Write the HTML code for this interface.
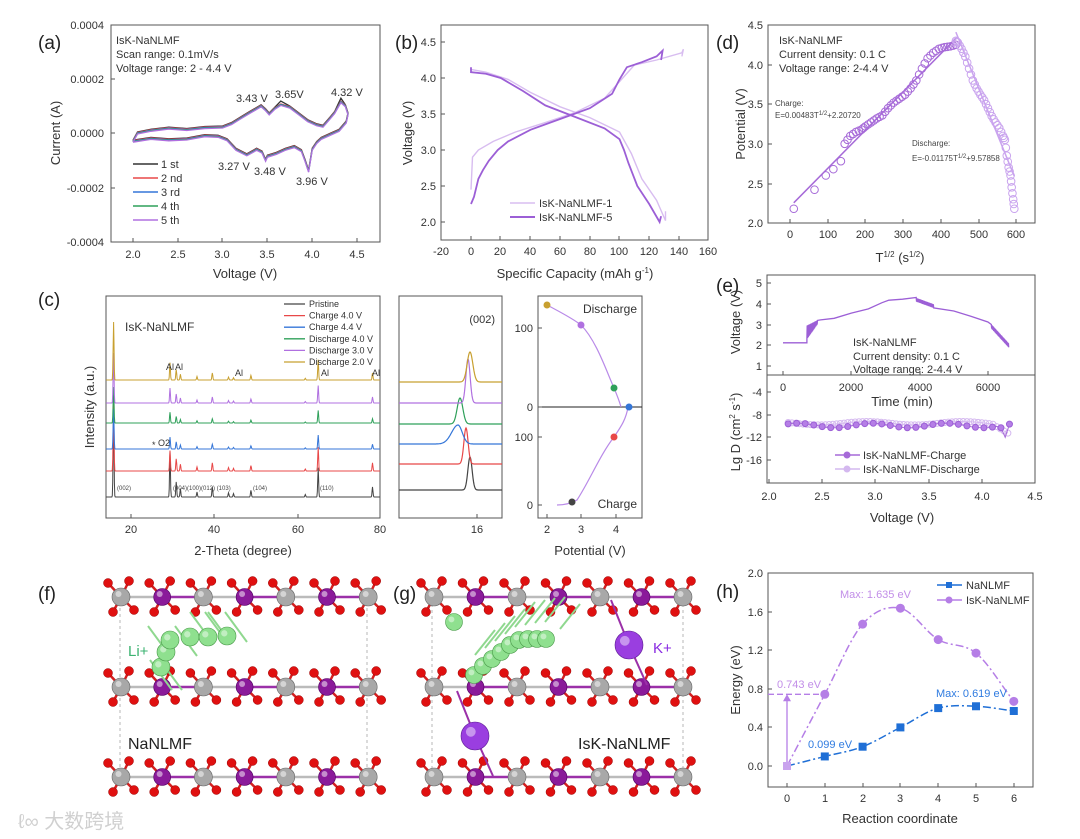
<!DOCTYPE html>
<html><head><meta charset="utf-8"><style>
html,body{margin:0;padding:0;background:#fff;}
svg{display:block;font-family:"Liberation Sans","Noto Sans CJK SC",sans-serif;}
.t{font-size:11px;fill:#333}
.l{font-size:13px;fill:#333}
.p{font-size:19px;fill:#222}
.fr{fill:none;stroke:#555;stroke-width:1}
</style></head><body>
<svg id="s" width="1080" height="839" viewBox="0 0 1080 839" xmlns="http://www.w3.org/2000/svg">
<rect width="1080" height="839" fill="#fff"/>
<text class="p" x="38" y="49">(a)</text>
<text class="p" x="395" y="49">(b)</text>
<text class="p" x="716" y="49">(d)</text>
<text class="p" x="38" y="306">(c)</text>
<text class="p" x="716" y="292">(e)</text>
<text class="p" x="38" y="600">(f)</text>
<text class="p" x="393" y="600">(g)</text>
<text class="p" x="716" y="598">(h)</text>

<rect class="fr" x="111" y="25" width="269" height="217"/>
<g class="t" text-anchor="end">
<text x="104" y="29">0.0004</text><text x="104" y="83">0.0002</text><text x="104" y="137">0.0000</text><text x="104" y="192">-0.0002</text><text x="104" y="246">-0.0004</text>
</g>
<g class="t" text-anchor="middle">
<text x="133" y="258">2.0</text><text x="178" y="258">2.5</text><text x="222" y="258">3.0</text><text x="267" y="258">3.5</text><text x="312" y="258">4.0</text><text x="357" y="258">4.5</text>
</g>
<text class="l" x="245" y="278" text-anchor="middle">Voltage (V)</text>
<text class="l" transform="translate(60,133) rotate(-90)" text-anchor="middle">Current (A)</text>
<g class="t"><text x="116" y="44">IsK-NaNLMF</text><text x="116" y="58">Scan range: 0.1mV/s</text><text x="116" y="72">Voltage range: 2 - 4.4 V</text>
<text x="236" y="102">3.43 V</text><text x="275" y="98">3.65V</text><text x="331" y="96">4.32 V</text>
<text x="218" y="170">3.27 V</text><text x="254" y="175">3.48 V</text><text x="296" y="185">3.96 V</text></g>
<g id="aLeg" class="t"></g>
<g id="aCurves"></g>

<rect class="fr" x="441" y="25" width="267" height="215"/>
<g class="t" text-anchor="end">
<text x="436" y="46">4.5</text><text x="436" y="82">4.0</text><text x="436" y="118">3.5</text><text x="436" y="154">3.0</text><text x="436" y="190">2.5</text><text x="436" y="226">2.0</text>
</g>
<g class="t" text-anchor="middle">
<text x="441" y="255">-20</text><text x="471" y="255">0</text><text x="500" y="255">20</text><text x="530" y="255">40</text><text x="560" y="255">60</text><text x="590" y="255">80</text><text x="619" y="255">100</text><text x="649" y="255">120</text><text x="679" y="255">140</text><text x="708" y="255">160</text>
</g>
<text class="l" x="575" y="278" text-anchor="middle">Specific Capacity (mAh g<tspan dy="-5" font-size="8">-1</tspan><tspan dy="5">)</tspan></text>
<text class="l" transform="translate(412,133) rotate(-90)" text-anchor="middle">Voltage (V)</text>
<g id="bCurves"></g>
<line x1="510" y1="203" x2="535" y2="203" stroke="#d8bdf0" stroke-width="1.5"/><text class="t" x="539" y="207">IsK-NaNLMF-1</text>
<line x1="510" y1="217" x2="535" y2="217" stroke="#9c5fd6" stroke-width="2"/><text class="t" x="539" y="221">IsK-NaNLMF-5</text>

<rect class="fr" x="768" y="25" width="267" height="198"/>
<g class="t" text-anchor="end">
<text x="763" y="29">4.5</text><text x="763" y="69">4.0</text><text x="763" y="108">3.5</text><text x="763" y="148">3.0</text><text x="763" y="188">2.5</text><text x="763" y="227">2.0</text>
</g>
<g class="t" text-anchor="middle">
<text x="790" y="238">0</text><text x="828" y="238">100</text><text x="865" y="238">200</text><text x="903" y="238">300</text><text x="941" y="238">400</text><text x="979" y="238">500</text><text x="1016" y="238">600</text>
</g>
<text class="l" x="900" y="262" text-anchor="middle">T<tspan dy="-5" font-size="8">1/2</tspan><tspan dy="5"> (s</tspan><tspan dy="-5" font-size="8">1/2</tspan><tspan dy="5">)</tspan></text>
<text class="l" transform="translate(745,124) rotate(-90)" text-anchor="middle">Potential (V)</text>
<g class="t"><text x="779" y="44">IsK-NaNLMF</text><text x="779" y="58">Current density: 0.1 C</text><text x="779" y="72">Voltage range: 2-4.4 V</text></g>
<g font-size="8" fill="#444"><text x="775" y="106">Charge:</text><text x="775" y="118">E=0.00483T<tspan dy="-3" font-size="6">1/2</tspan><tspan dy="3">+2.20720</tspan></text>
<text x="912" y="146">Discharge:</text><text x="912" y="161">E=-0.01175T<tspan dy="-3" font-size="6">1/2</tspan><tspan dy="3">+9.57858</tspan></text></g>
<g id="dCurves"></g>

<rect class="fr" x="767" y="275" width="268" height="208"/>
<line x1="767" y1="375" x2="1035" y2="375" stroke="#555"/>
<g class="t" text-anchor="end">
<text x="762" y="287">5</text><text x="762" y="308">4</text><text x="762" y="329">3</text><text x="762" y="349">2</text><text x="762" y="370">1</text>
<text x="762" y="396">-4</text><text x="762" y="419">-8</text><text x="762" y="441">-12</text><text x="762" y="464">-16</text>
</g>
<g class="t" text-anchor="middle">
<text x="783" y="391">0</text><text x="851" y="391">2000</text><text x="920" y="391">4000</text><text x="988" y="391">6000</text>
<text x="769" y="500">2.0</text><text x="822" y="500">2.5</text><text x="875" y="500">3.0</text><text x="929" y="500">3.5</text><text x="982" y="500">4.0</text><text x="1035" y="500">4.5</text>
</g>
<text class="l" x="902" y="406" text-anchor="middle">Time (min)</text>
<text class="l" x="902" y="522" text-anchor="middle">Voltage (V)</text>
<text class="l" transform="translate(740,322) rotate(-90)" text-anchor="middle">Voltage (V)</text>
<text class="l" transform="translate(740,432) rotate(-90)" text-anchor="middle">Lg D (cm<tspan dy="-5" font-size="8">2</tspan><tspan dy="5"> s</tspan><tspan dy="-5" font-size="8">-1</tspan><tspan dy="5">)</tspan></text>
<g class="t"><text x="853" y="346">IsK-NaNLMF</text><text x="853" y="360">Current density: 0.1 C</text><text x="853" y="373">Voltage range: 2-4.4 V</text></g>
<g id="eCurves"></g>
<line x1="835" y1="455" x2="860" y2="455" stroke="#a66ad8" stroke-width="1.5"/><circle cx="847" cy="455" r="3.5" fill="#a66ad8"/><text class="t" x="863" y="459">IsK-NaNLMF-Charge</text>
<line x1="835" y1="469" x2="860" y2="469" stroke="#d4b8ef" stroke-width="1.5"/><circle cx="847" cy="469" r="3.5" fill="#d4b8ef"/><text class="t" x="863" y="473">IsK-NaNLMF-Discharge</text>

<rect class="fr" x="106" y="296" width="274" height="222"/>
<rect class="fr" x="399" y="296" width="103" height="222"/>
<rect class="fr" x="538" y="296" width="104" height="222"/>
<g class="t" text-anchor="middle">
<text x="131" y="533">20</text><text x="214" y="533">40</text><text x="298" y="533">60</text><text x="380" y="533">80</text>
<text x="477" y="533">16</text>
<text x="547" y="533">2</text><text x="581" y="533">3</text><text x="616" y="533">4</text>
</g>
<g class="t" text-anchor="end"><text x="533" y="332">100</text><text x="533" y="411">0</text><text x="533" y="441">100</text><text x="533" y="509">0</text></g>
<text class="l" x="243" y="555" text-anchor="middle">2-Theta (degree)</text>
<text class="l" x="590" y="555" text-anchor="middle">Potential (V)</text>
<text class="l" transform="translate(94,407) rotate(-90)" text-anchor="middle">Intensity (a.u.)</text>
<text x="125" y="331" font-size="12" fill="#333">IsK-NaNLMF</text>
<text x="495" y="323" font-size="11" fill="#333" text-anchor="end">(002)</text>
<text x="637" y="313" font-size="12" fill="#333" text-anchor="end">Discharge</text>
<text x="637" y="508" font-size="12" fill="#333" text-anchor="end">Charge</text>
<g id="cCurves"></g>
<g id="cLeg" font-size="9" fill="#333"></g>
<g font-size="9" fill="#333"><text x="166" y="370">Al</text><text x="175" y="370">Al</text><text x="235" y="376">Al</text><text x="321" y="376">Al</text><text x="372" y="376">Al</text><text x="158" y="446">O2</text><text x="152" y="448">*</text></g>
<g font-size="6" fill="#444"><text x="117" y="490">(002)</text><text x="173" y="490">(004)(100)(012) (103)</text><text x="253" y="490">(104)</text><text x="320" y="490">(110)</text></g>

<g id="cryst"></g>
<text x="128" y="656" font-size="15" fill="#3cb371">Li+</text>
<text x="653" y="653" font-size="15" fill="#8a2be2">K+</text>
<text x="128" y="749" font-size="16" fill="#222">NaNLMF</text>
<text x="578" y="749" font-size="16" fill="#222">IsK-NaNLMF</text>
<text x="18" y="828" font-size="20" fill="#d0d0d0">ℓ∞ 大数跨境</text>

<rect class="fr" x="768" y="573" width="265" height="214"/>
<g class="t" text-anchor="end">
<text x="763" y="577">2.0</text><text x="763" y="616">1.6</text><text x="763" y="654">1.2</text><text x="763" y="693">0.8</text><text x="763" y="731">0.4</text><text x="763" y="770">0.0</text>
</g>
<g class="t" text-anchor="middle">
<text x="787" y="802">0</text><text x="825" y="802">1</text><text x="863" y="802">2</text><text x="900" y="802">3</text><text x="938" y="802">4</text><text x="976" y="802">5</text><text x="1014" y="802">6</text>
</g>
<text class="l" x="900" y="823" text-anchor="middle">Reaction coordinate</text>
<text class="l" transform="translate(740,680) rotate(-90)" text-anchor="middle">Energy (eV)</text>
<g id="hCurves"></g>
<g font-size="11"><text x="840" y="598" fill="#c28ee8">Max: 1.635 eV</text><text x="777" y="688" fill="#c28ee8">0.743 eV</text>
<text x="936" y="697" fill="#2f7be0">Max: 0.619 eV</text><text x="808" y="748" fill="#2f7be0">0.099 eV</text></g>
<line x1="937" y1="585" x2="962" y2="585" stroke="#1f6fd6" stroke-width="1.5"/><rect x="946" y="582" width="6" height="6" fill="#1f6fd6"/><text class="t" x="966" y="589">NaNLMF</text>
<line x1="937" y1="600" x2="962" y2="600" stroke="#b57ee6" stroke-width="1.5"/><circle cx="949" cy="600" r="3.5" fill="#b57ee6"/><text class="t" x="966" y="604">IsK-NaNLMF</text>
</svg>
<script>
var NS="http://www.w3.org/2000/svg";
function E(t,a,p){var e=document.createElementNS(NS,t);for(var k in a)e.setAttribute(k,a[k]);(p||document.getElementById('s')).appendChild(e);return e;}
function G(id){return document.getElementById(id);}
function pts(arr,fx,fy){return arr.map(function(q){return fx(q[0]).toFixed(1)+","+fy(q[1]).toFixed(1);}).join(" ");}
function interp(arr,n){var o=[];for(var i=0;i<arr.length-1;i++){for(var j=0;j<n;j++){var f=j/n;o.push([arr[i][0]+(arr[i+1][0]-arr[i][0])*f,arr[i][1]+(arr[i+1][1]-arr[i][1])*f]);}}o.push(arr[arr.length-1]);return o;}
function ticks(list,horiz,pos,len){list.forEach(function(v){if(horiz)E('line',{x1:v,y1:pos,x2:v,y2:pos-len,stroke:'#555'});else E('line',{x1:pos,y1:v,x2:pos+len,y2:v,stroke:'#555'});});}
ticks([133,178,222,267,312,357],1,242,4);ticks([25,79,133,188,242],0,111,4);
ticks([441,471,500,530,560,590,619,649,679,708],1,240,4);ticks([42,78,114,150,186,222],0,441,4);
ticks([790,828,865,903,941,979,1016],1,223,4);ticks([25,65,104,144,184,223],0,768,4);
ticks([283,304,325,345,366],0,767,4);ticks([392,415,437,460],0,767,4);ticks([783,851,920,988],1,375,4);
ticks([769,822,875,929,982,1035],1,483,4);
ticks([131,214,298,380],1,518,4);ticks([477],1,518,4);ticks([547,581,616],1,518,4);ticks([328,407,437,505],0,538,4);
ticks([787,825,863,900,938,976,1014],1,787,4);ticks([573,612,650,689,727,766],0,768,4);

var up=[[2.0,-0.3],[2.05,0],[2.2,0.1],[2.4,0.18],[2.6,0.13],[2.8,0.2],[3.0,0.22],[3.1,0.35],[3.2,0.55],[3.3,0.75],[3.43,1.0],[3.48,0.85],[3.52,0.7],[3.58,0.9],[3.65,1.05],[3.75,0.95],[3.85,0.7],[3.95,0.45],[4.05,0.3],[4.12,0.25],[4.2,0.55],[4.25,0.75],[4.32,1.15],[4.37,1.0],[4.4,0.7]];
var dn=[[4.4,0.7],[4.38,0.4],[4.3,0.1],[4.2,-0.05],[4.1,-0.2],[4.05,-0.35],[4.0,-0.6],[3.96,-1.4],[3.92,-1.0],[3.88,-0.65],[3.8,-0.5],[3.7,-0.6],[3.6,-0.75],[3.5,-0.85],[3.48,-1.0],[3.44,-0.7],[3.38,-0.6],[3.27,-0.8],[3.15,-0.6],[3.05,-0.25],[2.95,-0.12],[2.8,-0.1],[2.6,-0.22],[2.4,-0.25],[2.2,-0.2],[2.0,-0.3]];
var cols=['#333','#e84848','#3576d8','#2fa05a','#b070e0'];
var ac=G('aCurves');
cols.forEach(function(c,k){E('polyline',{points:pts(up.concat(dn),function(v){return 133+(v-2)*89.6;},function(u){return 133-(u*(1+(k===0&&u>1?0.08:0)))*27.25+(k-2)*0.5;}),fill:'none',stroke:c,'stroke-width':1.3},ac);});
var al=G('aLeg');['1 st','2 nd','3 rd','4 th','5 th'].forEach(function(t,i){var y=164+i*14;E('line',{x1:133,y1:y,x2:158,y2:y,stroke:cols[i],'stroke-width':1.5},al);var tx=E('text',{x:161,y:y+4},al);tx.textContent=t;});

var bx=function(c){return 471+c*1.485;},by=function(v){return 222-(v-2)*72;};
var b5c=[[0,2.25],[2,2.35],[5,2.6],[8,2.72],[12,2.85],[18,3.0],[25,3.12],[40,3.28],[60,3.43],[80,3.58],[95,3.78],[100,3.98],[105,4.15],[115,4.22],[125,4.3],[129,4.38],[128,4.25]];
var b5d=[[0,4.15],[0,4.08],[10,4.06],[20,4.0],[35,3.82],[50,3.62],[70,3.46],[90,3.3],[100,3.15],[103,3.0],[106,2.82],[112,2.5],[120,2.25],[127,2.0],[128,2.08]];
var b1c=[[0,2.45],[1,2.9],[5,3.0],[15,3.12],[30,3.25],[50,3.38],[70,3.52],[90,3.72],[100,3.95],[110,4.18],[125,4.25],[142,4.35],[143,4.4],[142,4.3]];
var b1d=[[0,4.12],[10,4.08],[25,3.98],[40,3.8],[60,3.6],[80,3.45],[100,3.25],[108,2.95],[115,2.6],[125,2.3],[131,2.02],[131,2.15]];
var bc=G('bCurves');
[b1c,b1d].forEach(function(a){E('polyline',{points:pts(a,bx,by),fill:'none',stroke:'#d8bdf0','stroke-width':1.4},bc);});
[b5c,b5d].forEach(function(a){E('polyline',{points:pts(a,bx,by),fill:'none',stroke:'#9c5fd6','stroke-width':1.8},bc);});

var dx=function(t){return 790+t*0.377;},dy=function(v){return 223-(v-2)*79.2;};
var dc=G('dCurves');
E('line',{x1:dx(10),y1:dy(2.255),x2:dx(440),y2:dy(4.33),stroke:'#a66ad8','stroke-width':1.5},dc);
E('line',{x1:dx(440),y1:dy(4.41),x2:dx(595),y2:dy(2.59),stroke:'#c9a3ee','stroke-width':1.5},dc);
var ch=[[10,2.18],[65,2.42],[95,2.6],[115,2.68],[135,2.78],[145,3.0],[160,3.1],[175,3.15],[190,3.18],[200,3.22],[215,3.27],[230,3.32],[245,3.36],[260,3.45],[275,3.52],[290,3.57],[305,3.62],[320,3.7],[335,3.8],[350,3.95],[365,4.08],[380,4.15],[395,4.2],[410,4.22],[425,4.23],[440,4.25]];
var chD=interp(ch.slice(5),2).concat(ch.slice(0,5));
chD.forEach(function(q){E('circle',{cx:dx(q[0]),cy:dy(q[1]),r:3.8,fill:'none',stroke:'#a66ad8','stroke-width':1},dc);});
var ds=[[440,4.3],[445,4.28],[455,4.2],[465,4.1],[475,3.95],[485,3.8],[495,3.7],[505,3.62],[515,3.55],[525,3.45],[535,3.35],[545,3.27],[555,3.2],[565,3.1],[570,3.05],[575,2.85],[580,2.7],[585,2.6],[588,2.45],[592,2.3],[595,2.18]];
interp(ds,2).forEach(function(q){E('circle',{cx:dx(q[0]),cy:dy(q[1]),r:3.8,fill:'none',stroke:'#c9a3ee','stroke-width':1},dc);});

var ec=G('eCurves');
var ex=function(t){return 783+t*0.03415;},ey=function(v){return 283+(5-v)*20.75;};
var ev=[[0,2.12],[700,2.12]];
for(var t=700;t<=1000;t+=20){ev.push([t,2.3+(t-700)/300*0.7]);ev.push([t+10,2.95+(t-700)/300*0.25]);}
[[1100,3.22],[1500,3.3],[2000,3.55],[2500,3.75],[2900,4.05],[3100,4.17],[3500,4.22],[3900,4.3]].forEach(function(q){ev.push(q);});
for(var t=3900;t<=4400;t+=25){var base=4.28-(t-3900)/500*0.3;ev.push([t,base]);ev.push([t+12,base-0.18]);}
[[5000,3.65],[5500,3.4],[6000,3.12],[6100,3.0]].forEach(function(q){ev.push(q);});
for(var t=6100;t<=6600;t+=20){var base=3.0-(t-6100)/500*0.9;ev.push([t,base]);ev.push([t+10,base-0.2]);}
E('polyline',{points:pts(ev,ex,ey),fill:'none',stroke:'#9c5fd6','stroke-width':1.3},ec);
var vx=function(v){return 769+(v-2)*106.4;},vy=function(d){return 392+(-4-d)*5.675;};
var dch=[],ddis=[];
for(var v=2.18;v<=4.28;v+=0.04){var d=-9.9+0.4*Math.sin(v*9)-(v>4.15&&v<4.26?2.2*Math.exp(-Math.pow((v-4.22)/0.03,2)):0);dch.push([v,d]);}
for(var v=2.18;v<=4.25;v+=0.035){var d=-9.5+0.3*Math.sin(v*7)-(v>4.1?1.5*(v-4.1)/0.15:0);ddis.push([v,d]);}
E('polyline',{points:pts(ddis,vx,vy),fill:'none',stroke:'#d4b8ef','stroke-width':1},ec);
ddis.forEach(function(q){E('circle',{cx:vx(q[0]),cy:vy(q[1]),r:3,fill:'none',stroke:'#d4b8ef'},ec);});
E('polyline',{points:pts(dch,vx,vy),fill:'none',stroke:'#a66ad8','stroke-width':1},ec);
dch.forEach(function(q,i){if(i%2==0)E('circle',{cx:vx(q[0]),cy:vy(q[1]),r:3,fill:'#b57ee6',stroke:'#9c5fd6'},ec);});

var cc=G('cCurves');
var ccols=['#444','#e84848','#3576d8','#2fa05a','#b070e0','#c8a030'];
var base=[497,471,449,423,403,380];
var tall=[84,68,40,36,50,58];
var peaks=[[15.8,1],[29.4,0.3],[30.9,0.18],[31.9,0.1],[35.9,0.06],[39.6,0.12],[43.5,0.05],[44.7,0.04],[48.9,0.08],[62,0.03],[65.1,0.35],[78.2,0.12]];
var cx=function(t){return 48+t*4.15;};
for(var k=0;k<6;k++){var p=[];for(var t=14;t<=80;t+=0.1){var y=0;peaks.forEach(function(pk){var h=pk[1];if(k==0&&pk[0]==29.4)h=0.55;y+=h*Math.exp(-Math.pow((t-pk[0])/0.15,2));});p.push([t,base[k]-y*tall[k]]);}
E('polyline',{points:pts(p,cx,function(v){return v;}),fill:'none',stroke:ccols[k],'stroke-width':1},cc);}
var mb=[490,464,444,424,403,382],mpx=[470,466,458,460,468,470],mpy=[457,428,425,398,359,352],mw=[3,3,6,4,3,4];
for(var k=0;k<6;k++){var p=[];for(var x=399;x<=502;x+=0.5){var h=mb[k]-mpy[k];var y=mb[k]-h*Math.exp(-Math.pow((x-mpx[k])/mw[k],2));if(k==2&&x<mpx[k])y=mb[k]-h*Math.exp(-Math.pow((x-mpx[k])/9,2));p.push([x,y]);}
E('polyline',{points:pts(p,function(v){return v;},function(v){return v;}),fill:'none',stroke:ccols[k],'stroke-width':1.2},cc);}
E('line',{x1:538,y1:407,x2:642,y2:407,stroke:'#222','stroke-width':1},cc);
E('path',{d:'M547,305 C560,312 572,318 581,325 C596,340 606,370 614,388 C617,395 619,400 621,407',fill:'none',stroke:'#b98ae8','stroke-width':1.2},cc);
E('path',{d:'M628,407 C626,420 620,428 614,437 C600,455 590,480 577,500 C570,504 563,505 557,505',fill:'none',stroke:'#b98ae8','stroke-width':1.2},cc);
[[547,305,'#c8a030'],[581,325,'#b070e0'],[614,388,'#2fa05a'],[629,407,'#3576d8'],[614,437,'#e84848'],[572,502,'#444']].forEach(function(q){E('circle',{cx:q[0],cy:q[1],r:3.5,fill:q[2]},cc);});
var cl=G('cLeg');['Pristine','Charge 4.0 V','Charge 4.4 V','Discharge 4.0 V','Discharge 3.0 V','Discharge 2.0 V'].forEach(function(t,i){var y=304+i*11.6;E('line',{x1:284,y1:y,x2:305,y2:y,stroke:ccols[i],'stroke-width':1.3},cl);var tx=E('text',{x:309,y:y+3},cl);tx.textContent=t;});

var cr=G('cryst');
function box(x0,x1,y0,y1){E('rect',{x:x0,y:y0,width:x1-x0,height:y1-y0,fill:'none',stroke:'#999','stroke-dasharray':'3,3','stroke-width':0.7},cr);}
function layer(x0,step,y,n){E('line',{x1:x0,y1:y,x2:x0+step*(n-1),y2:y,stroke:'#aaa','stroke-dasharray':'3,3','stroke-width':0.7},cr);
 var os=[];for(var i=0;i<n;i++){var x=x0+i*step;os.push([x-13,y-14],[x+8,y-16],[x-8,y+15],[x+13,y+13]);}
 for(var i=0;i<n;i++){var x=x0+i*step;os.forEach(function(o){if(Math.abs(o[0]-x)<16)E('line',{x1:x,y1:y,x2:o[0],y2:o[1],stroke:'#d42020','stroke-width':2.5},cr);});}
 for(var i=0;i<n-1;i++){var x=x0+i*step;E('line',{x1:x,y1:y,x2:x+step,y2:y,stroke:i%2?'#9b30a8':'#bbb','stroke-width':2.5},cr);}
 os.forEach(function(o){E('circle',{cx:o[0],cy:o[1],r:4.5,fill:'#e01010',stroke:'#900','stroke-width':0.5},cr);});
 for(var i=0;i<n;i++){var x=x0+i*step;var g=i%2==0;E('circle',{cx:x,cy:y,r:g?9:8.5,fill:g?'#a8a8a8':'#8a1a9a',stroke:g?'#666':'#500060','stroke-width':0.6},cr);E('circle',{cx:x-2.5,cy:y-3,r:3,fill:'#fff',opacity:0.5},cr);}}
box(120,367,597,777);box(432,683,597,777);
[597,687,777].forEach(function(y){layer(121,41.2,y,7);layer(434,41.5,y,7);});
function sph(x,y,r,c,s){E('circle',{cx:x,cy:y,r:r,fill:c,stroke:s,'stroke-width':0.6},cr);E('circle',{cx:x-r*0.3,cy:y-r*0.3,r:r*0.35,fill:'#fff',opacity:0.45},cr);}
[[148,626],[175,626],[205,612],[150,660],[190,612],[208,612],[225,612],[160,660]].forEach(function(q){E('line',{x1:q[0],y1:q[1],x2:q[0]+22,y2:q[1]+30,stroke:'#8fd88f','stroke-width':2},cr);});
[[161,667],[166,652],[170,640],[190,637],[208,637],[227,636]].forEach(function(q){sph(q[0],q[1],9,'#8fe08f','#4a9a4a');});
[[475,655],[485,648],[495,641],[505,634],[515,627],[525,625],[535,623],[545,622],[560,629]].forEach(function(q){E('line',{x1:q[0],y1:q[1],x2:q[0]+20,y2:q[1]-25,stroke:'#8fd88f','stroke-width':2},cr);});
[[474,675],[483,666],[492,659],[501,652],[510,645],[519,640],[528,639],[537,639],[546,639],[454,622]].forEach(function(q){sph(q[0],q[1],8.5,'#8fe08f','#4a9a4a');});
[[629,645],[475,736]].forEach(function(q){E('line',{x1:q[0],y1:q[1],x2:q[0]-18,y2:q[1]-45,stroke:'#9b30a8','stroke-width':2},cr);E('line',{x1:q[0],y1:q[1],x2:q[0]+18,y2:q[1]+40,stroke:'#9b30a8','stroke-width':2},cr);sph(q[0],q[1],14,'#9a3ee0','#5a1a90');});

var hc=G('hCurves');
var hx=function(r){return 787+r*37.8;},hy=function(e){return 766-e*96.5;};
var na=[0,0.099,0.2,0.4,0.6,0.619,0.57],ik=[0,0.743,1.47,1.635,1.31,1.17,0.67];
function smooth(v){var s='M'+hx(0)+','+hy(v[0]);for(var i=0;i<v.length-1;i++){var x0=hx(i),x1=hx(i+1),y0=hy(v[i]),y1=hy(v[i+1]);var m0=i>0?(hy(v[i+1])-hy(v[i-1]))/2:y1-y0,m1=i<v.length-2?(hy(v[i+2])-hy(v[i]))/2:y1-y0;s+=' C'+(x0+12.6)+','+(y0+m0/3)+' '+(x1-12.6)+','+(y1-m1/3)+' '+x1+','+y1;}return s;}
E('path',{d:smooth(na),fill:'none',stroke:'#1f6fd6','stroke-width':1.5,'stroke-dasharray':'8,3,2,3'},hc);
E('path',{d:smooth(ik),fill:'none',stroke:'#b57ee6','stroke-width':1.5,'stroke-dasharray':'8,3,2,3'},hc);
E('line',{x1:768,y1:hy(0.743),x2:825,y2:hy(0.743),stroke:'#b57ee6','stroke-width':1.3,'stroke-dasharray':'6,3'},hc);
E('line',{x1:787,y1:hy(0),x2:787,y2:hy(0.743)+6,stroke:'#b57ee6','stroke-width':1.3},hc);
E('path',{d:'M783,'+(hy(0.743)+7)+' L787,'+hy(0.743)+' L791,'+(hy(0.743)+7)+'Z',fill:'#b57ee6'},hc);
na.forEach(function(e,i){E('rect',{x:hx(i)-4,y:hy(e)-4,width:8,height:8,fill:'#1f6fd6'},hc);});
ik.forEach(function(e,i){if(i==0)E('rect',{x:hx(0)-4,y:hy(0)-4,width:8,height:8,fill:'#c9a3ee'},hc);else E('circle',{cx:hx(i),cy:hy(e),r:4.5,fill:'#b57ee6'},hc);});
</script>
</body></html>
